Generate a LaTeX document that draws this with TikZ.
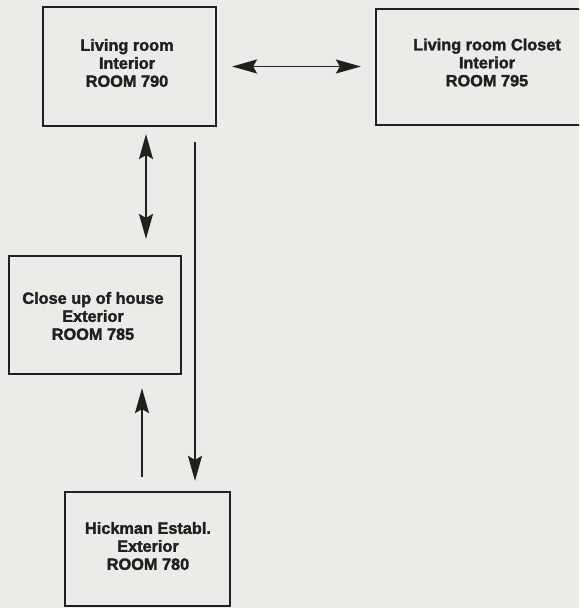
\documentclass[tikz,border=0pt]{standalone}
\usepackage{fontspec}
\setmainfont{Liberation Sans}[BoldFeatures={FakeBold=1.8}]
\usetikzlibrary{arrows.meta}
\definecolor{paper}{RGB}{236,235,231}
\definecolor{ink}{RGB}{32,32,32}
\begin{document}
\begin{tikzpicture}[x=1pt,y=-1pt,
  roombox/.style={draw=ink, line width=2.2pt, fill=paper, align=center, text=ink,
    font=\fontsize{16.3}{18}\selectfont\bfseries, inner sep=0pt},
  conn/.style={draw=ink, line width=1.8pt},
  >={Stealth[length=25pt,width=14pt,inset=4pt]}]
\fill[paper] (0,0) rectangle (579,608);
\useasboundingbox (0,0) rectangle (579,608);
\begin{scope}
\clip (0,0) rectangle (579,608);
\node[roombox, minimum width=173pt, minimum height=119pt] (r790) at (129.5,66.5) {};
\node[roombox, minimum width=224pt, minimum height=116pt] (r795) at (488,67) {};
\node[roombox, minimum width=172pt, minimum height=118pt] (r785) at (95,315) {};
\node[roombox, minimum width=165pt, minimum height=114pt] (r780) at (147.5,549) {};
\end{scope}
\node[roombox, draw=none, fill=none] (t790) at (127,63) {Living room\\Interior\\ROOM 790};
\node[roombox, draw=none, fill=none] (t795) at (487,62.5) {Living room Closet\\Interior\\ROOM 795};
\node[roombox, draw=none, fill=none] (t785) at (93,316) {Close up of house\\Exterior\\ROOM 785};
\node[roombox, draw=none, fill=none] (t780) at (148,546) {Hickman Establ.\\Exterior\\ROOM 780};
\coordinate (xa) at (146,0);
\coordinate (xb) at (195,0);
\coordinate (xc) at (142,0);
\draw[conn, <->, shorten <=15pt, shorten >=14pt] (r790.east) -- (r795.west |- r790.east);
\draw[conn, <->, shorten <=7pt, shorten >=16pt] (r790.south -| xa) -- (r785.north -| xa);
\draw[conn, ->, shorten <=15pt, shorten >=10pt] (r790.south -| xb) -- (r780.north -| xb);
\draw[conn, ->, shorten <=14pt, shorten >=13pt] (r780.north -| xc) -- (r785.south -| xc);
\end{tikzpicture}
\end{document}
